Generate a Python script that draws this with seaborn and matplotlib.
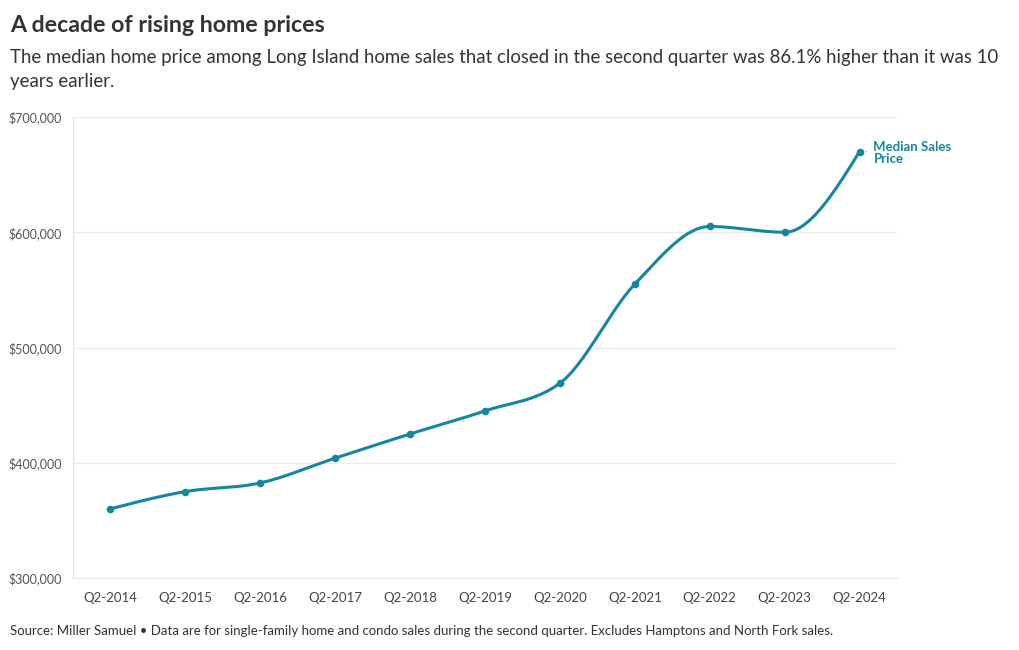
import numpy as np
import pandas as pd
import matplotlib
matplotlib.use("Agg")
import matplotlib.pyplot as plt
import seaborn as sns

# data
quarters = ["Q2-2014", "Q2-2015", "Q2-2016", "Q2-2017", "Q2-2018", "Q2-2019",
            "Q2-2020", "Q2-2021", "Q2-2022", "Q2-2023", "Q2-2024"]
median_price = [360000, 375000, 382500, 404000, 425000, 445000,
                469000, 555000, 605000, 600000, 670000]
y_ticks = [300000, 400000, 500000, 600000, 700000]

LINE = "#15869f"
TXT = "#333333"


def monotone_curve(x, y, n=30):
    # monotone cubic (like d3 curveMonotoneX), only used to draw the line
    x = np.asarray(x, float)
    y = np.asarray(y, float)
    h = np.diff(x)
    d = np.diff(y) / h
    m = np.zeros_like(y)
    for i in range(1, len(y) - 1):
        p = (d[i - 1] * h[i] + d[i] * h[i - 1]) / (h[i - 1] + h[i])
        m[i] = (np.sign(d[i - 1]) + np.sign(d[i])) * min(abs(d[i - 1]), abs(d[i]), 0.5 * abs(p))
    m[0] = (3 * d[0] - m[1]) / 2
    m[-1] = (3 * d[-1] - m[-2]) / 2
    xs, ys = [], []
    for i in range(len(h)):
        t = np.linspace(0, 1, n)
        h00 = 2 * t**3 - 3 * t**2 + 1
        h10 = t**3 - 2 * t**2 + t
        h01 = -2 * t**3 + 3 * t**2
        h11 = t**3 - t**2
        xs.append(x[i] + t * h[i])
        ys.append(h00 * y[i] + h10 * h[i] * m[i] + h01 * y[i + 1] + h11 * h[i] * m[i + 1])
    return np.concatenate(xs), np.concatenate(ys)


sns.set_theme(style="white")
plt.rcParams["font.family"] = ["Lato", "DejaVu Sans"]

df = pd.DataFrame({"quarter": quarters, "price": median_price})
df["pos"] = np.arange(len(df))

fig = plt.figure(figsize=(10.2, 6.5), dpi=100)
ax = fig.add_axes([73 / 1020, 72 / 650, 824 / 1020, 461 / 650])

cx, cy = monotone_curve(df["pos"], df["price"])
sns.lineplot(x=cx, y=cy, ax=ax, color=LINE, linewidth=2.2, sort=False)
sns.scatterplot(data=df, x="pos", y="price", ax=ax, color=LINE, s=30,
                edgecolor=LINE, linewidth=0, zorder=3)

ax.set_xlim(-0.5, len(quarters) - 0.5)
ax.set_ylim(300000, 700000)
ax.set_yticks(y_ticks)
ax.set_yticklabels([f"${v:,.0f}" for v in y_ticks], fontsize=9, color="#555555")
ax.set_xticks(df["pos"])
ax.set_xticklabels(quarters, fontsize=9.5, color="#444444")
ax.set_xlabel("")
ax.set_ylabel("")
ax.grid(axis="y", color="#ececec", linewidth=0.9)
ax.grid(axis="x", visible=False)
for side in ["top", "right"]:
    ax.spines[side].set_visible(False)
for side in ["left", "bottom"]:
    ax.spines[side].set_color("#e6e6e6")
    ax.spines[side].set_linewidth(0.9)
ax.tick_params(axis="y", length=5, color="#e6e6e6", pad=3)
ax.tick_params(axis="x", length=4, color="#e6e6e6", pad=6)

# series label
last = df.iloc[-1]
ax.annotate("Median Sales\nPrice", xy=(last["pos"], last["price"]),
            xytext=(10, -1), textcoords="offset points",
            color=LINE, fontsize=9.5, fontweight="bold", va="center", ha="left",
            linespacing=1.0)
ax.annotate("", xy=(last["pos"] + 0.08, last["price"]), xytext=(last["pos"] + 0.13, last["price"]),
            arrowprops=dict(arrowstyle="-", color="#bbbbbb", lw=0.8))

fig.text(10 / 1020, 1 - 25 / 650, "A decade of rising home prices", fontsize=16.7,
         fontweight="bold", color=TXT, va="center", ha="left")
fig.text(10 / 1020, 1 - 57 / 650,
         "The median home price among Long Island home sales that closed in the second quarter was 86.1% higher than it was 10",
         fontsize=13.4, color=TXT, va="center", ha="left")
fig.text(10 / 1020, 1 - 81 / 650, "years earlier.", fontsize=13.4, color=TXT, va="center", ha="left")
fig.text(10 / 1020, 1 - 631 / 650,
         "Source: Miller Samuel \u2022 Data are for single-family home and condo sales during the second quarter. Excludes Hamptons and North Fork sales.",
         fontsize=9.55, color=TXT, va="center", ha="left")

fig.savefig("out.png", dpi=100, facecolor="white")
